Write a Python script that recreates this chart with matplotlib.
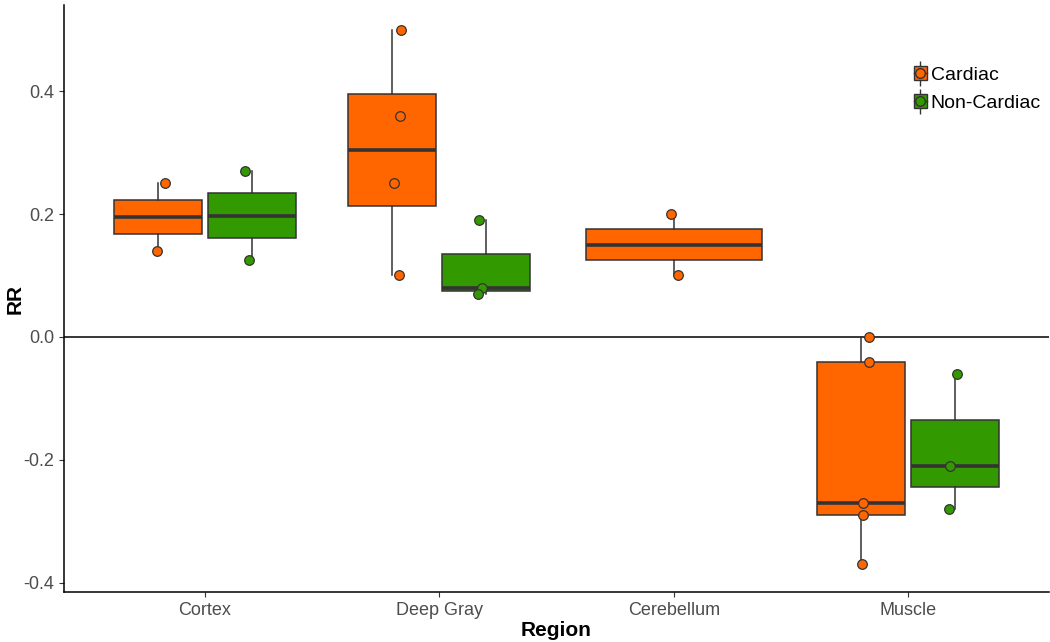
import numpy as np
import matplotlib.pyplot as plt
from matplotlib.patches import Patch
from matplotlib.lines import Line2D

plt.rcParams['font.family'] = ['Liberation Sans', 'DejaVu Sans']

regions = ["Cortex", "Deep Gray", "Cerebellum", "Muscle"]
groups = ["Cardiac", "Non-Cardiac"]
colors = ["#FF6600", "#339900"]

# RR values per region
cardiac_rr = [[0.25, 0.14], [0.5, 0.36, 0.25, 0.1], [0.2, 0.1],
              [0.0, -0.04, -0.27, -0.29, -0.37]]
noncardiac_rr = [[0.27, 0.125], [0.19, 0.08, 0.07], [], [-0.06, -0.21, -0.28]]

# horizontal jitter of the points around their box centre
cardiac_jit = [[0.03, -0.005], [0.038, 0.034, 0.008, 0.03], [-0.013, 0.017],
               [0.032, 0.032, 0.007, 0.007, 0.002]]
noncardiac_jit = [[-0.03, -0.013], [-0.03, -0.017, -0.034], [],
                  [0.007, -0.023, -0.028]]

edge = "#333333"

fig = plt.figure(figsize=(10.5, 6.42), dpi=100)
ax = fig.add_axes([0.061, 0.078, 0.938, 0.914])

ax.axhline(0, color="black", lw=1.1, zorder=1)


def draw_group(values, pos, width, color, jitter):
    if not values:
        return
    ax.boxplot([values], positions=[pos], widths=width, patch_artist=True,
               showcaps=False, showfliers=False, whis=1.5, manage_ticks=False,
               boxprops=dict(facecolor=color, edgecolor=edge, linewidth=1.1),
               medianprops=dict(color=edge, linewidth=2.6),
               whiskerprops=dict(color=edge, linewidth=1.1),
               zorder=2)
    ax.scatter(pos + np.array(jitter), values, s=48, c=color,
               edgecolors=edge, linewidths=0.9, zorder=3)


for i in range(len(regions)):
    x = i + 1
    both = len(cardiac_rr[i]) > 0 and len(noncardiac_rr[i]) > 0
    if both:
        draw_group(cardiac_rr[i], x - 0.2, 0.375, colors[0], cardiac_jit[i])
        draw_group(noncardiac_rr[i], x + 0.2, 0.375, colors[1], noncardiac_jit[i])
    else:
        draw_group(cardiac_rr[i], x, 0.75, colors[0], cardiac_jit[i])
        draw_group(noncardiac_rr[i], x, 0.75, colors[1], noncardiac_jit[i])

ax.set_xlim(0.4, 4.6)
ax.set_ylim(-0.415, 0.54)
ax.set_xticks(range(1, len(regions) + 1))
ax.set_xticklabels(regions)
ax.set_yticks([-0.4, -0.2, 0.0, 0.2, 0.4])
ax.set_yticklabels(["-0.4", "-0.2", "0.0", "0.2", "0.4"])
ax.tick_params(colors=edge, labelcolor="#4D4D4D", labelsize=13, length=3.5)
for s in ["top", "right"]:
    ax.spines[s].set_visible(False)
for s in ["left", "bottom"]:
    ax.spines[s].set_color("black")
    ax.spines[s].set_linewidth(1.1)

ax.set_xlabel("Region", fontsize=15, fontweight="bold")
ax.set_ylabel("RR", fontsize=15, fontweight="bold")
ax.xaxis.set_label_coords(0.5, -0.049)
ax.yaxis.set_label_coords(-0.040, 0.5)

handles = []
for c in colors:
    handles.append((Line2D([], [], color=edge, lw=0, marker="|", ms=18, mew=1),
                    Patch(facecolor=c, edgecolor=edge, linewidth=1),
                    Line2D([], [], color=edge, lw=1, marker="o", ms=7,
                           mfc=c, mec=edge)))
fig.legend(handles, groups, loc="upper left",
           bbox_to_anchor=(914 / 1050, 1 - 66 / 642), frameon=False,
           fontsize=14, handlelength=0.65, handleheight=0.7,
           handletextpad=0.2, labelspacing=0.55, borderaxespad=0, borderpad=0)

fig.savefig("out.png", dpi=100)
